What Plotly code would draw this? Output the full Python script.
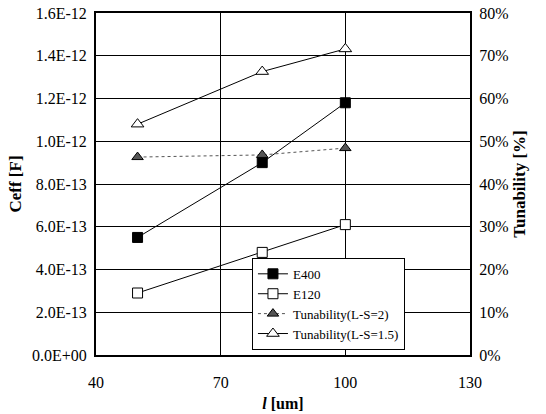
import plotly.graph_objects as go

length_um = [50, 80, 100]
e400 = [5.5e-13, 9.0e-13, 1.18e-12]
e120 = [2.9e-13, 4.8e-13, 6.1e-13]
tun_ls2 = [46.3, 46.8, 48.4]
tun_ls15 = [54.0, 66.3, 71.6]

y_tickvals = [0, 2e-13, 4e-13, 6e-13, 8e-13, 1e-12, 1.2e-12, 1.4e-12, 1.6e-12]
y_ticktext = ["0.0E+00", "2.0E-13", "4.0E-13", "6.0E-13", "8.0E-13",
              "1.0E-12", "1.2E-12", "1.4E-12", "1.6E-12"]
x_tickvals = [40, 70, 100, 130]

FONT = "Liberation Serif, Times New Roman, DejaVu Serif, serif"

fig = go.Figure()
fig.add_trace(go.Scatter(x=length_um, y=e400, name="E400", mode="lines+markers",
                         line=dict(color="black", width=1),
                         marker=dict(symbol="square", size=10, color="black",
                                     line=dict(color="black", width=1))))
fig.add_trace(go.Scatter(x=length_um, y=e120, name="E120", mode="lines+markers",
                         line=dict(color="black", width=1),
                         marker=dict(symbol="square", size=10, color="white",
                                     line=dict(color="black", width=1))))
fig.add_trace(go.Scatter(x=length_um, y=tun_ls2, name="Tunability(L-S=2)", mode="lines+markers",
                         yaxis="y2",
                         line=dict(color="#555555", width=1, dash="dot"),
                         marker=dict(symbol="triangle-up", size=10, color="#555555",
                                     line=dict(color="black", width=1))))
fig.add_trace(go.Scatter(x=length_um, y=tun_ls15, name="Tunability(L-S=1.5)", mode="lines+markers",
                         yaxis="y2",
                         line=dict(color="black", width=1),
                         marker=dict(symbol="triangle-up", size=11, color="white",
                                     line=dict(color="black", width=1))))

fig.update_layout(
    width=546, height=414,
    margin=dict(l=96, r=76, t=13, b=59, autoexpand=False),
    paper_bgcolor="white", plot_bgcolor="white",
    font=dict(family=FONT, size=16, color="black"),
    showlegend=True,
    legend=dict(x=0.417, y=0.015, xanchor="left", yanchor="bottom",
                bgcolor="white", bordercolor="black", borderwidth=1,
                font=dict(family=FONT, size=13, color="black"),
                tracegroupgap=0, entrywidth=170, entrywidthmode="pixels"),
    xaxis=dict(range=[40, 130], tickvals=x_tickvals, showgrid=True,
               gridcolor="black", gridwidth=1, zeroline=False, automargin=False,
               showline=True, linecolor="black", linewidth=2, mirror=True,
               ticks="", ticklabelstandoff=12,
               tickfont=dict(family=FONT, size=16, color="black"),
               title=dict(text="<b><i>l</i> [um]</b>", standoff=8,
                          font=dict(family=FONT, size=16))),
    yaxis=dict(range=[0, 1.6e-12], tickvals=y_tickvals, ticktext=y_ticktext,
               showgrid=True, gridcolor="black", gridwidth=1, zeroline=False,
               automargin=False,
               showline=True, linecolor="black", linewidth=2, mirror=True,
               ticks="inside", ticklen=4, tickcolor="black", ticklabelstandoff=4,
               tickfont=dict(family=FONT, size=16, color="black"),
               title=dict(text="<b>Ceff [F]</b>", standoff=6,
                          font=dict(family=FONT, size=17))),
    yaxis2=dict(range=[0, 80], dtick=10, ticksuffix="%", overlaying="y", side="right",
                showgrid=False, zeroline=False, showline=True, linecolor="black",
                automargin=False,
                linewidth=2, ticks="inside", ticklen=4, tickcolor="black",
                ticklabelstandoff=4,
                tickfont=dict(family=FONT, size=16, color="black"),
                title=dict(text="<b>Tunability [%]</b>", standoff=6,
                           font=dict(family=FONT, size=17))),
)

fig.write_html("out.html")
